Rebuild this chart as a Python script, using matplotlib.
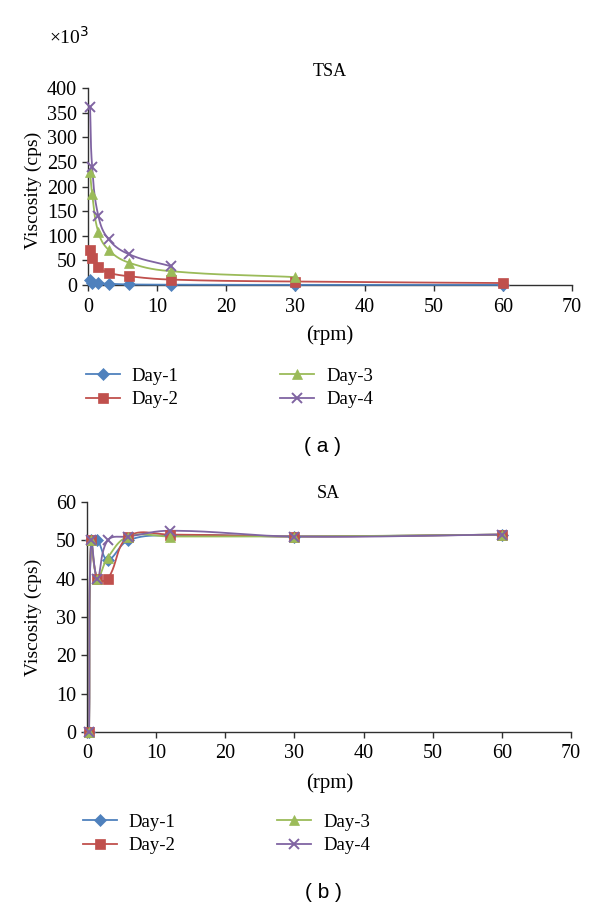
import numpy as np
import matplotlib
matplotlib.use("Agg")
import matplotlib.pyplot as plt
from matplotlib.lines import Line2D

plt.rcParams['font.family'] = ['Liberation Serif', 'DejaVu Serif']

rpm = [0.3, 0.6, 1.5, 3, 6, 12, 30, 60]
labels = ["Day-1", "Day-2", "Day-3", "Day-4"]
colors = ["#4F81BD", "#C0504D", "#9BBB59", "#8064A2"]
markers = ["D", "s", "^", "x"]
msizes = [6, 6.8, 7.5, 7.5]

# Panel (a): TSA viscosity (x10^3 cps)
tsa_day1 = [10, 5, 3.5, 2.4, 1.2, 0.6, 0.3, 0.2]
tsa_day2 = [71, 55, 36.5, 25, 17.7, 11, 7, 4]
tsa_day3 = [230, 185, 107, 71, 45, 28, 16]
tsa_day4 = [361, 240, 140, 92.5, 62, 38]

# Panel (b): SA viscosity (cps)
sa_day1 = [0, 50, 50, 45, 50, 51.3, 51, 51.5]
sa_day2 = [0, 50, 40, 40, 51, 51.5, 51, 51.5]
sa_day3 = [0, 50, 40, 45.5, 51, 51, 51, 51.5]
sa_day4 = [0, 50, 40, 50, 51, 52.5, 51, 51.5]

xticks = [0, 10, 20, 30, 40, 50, 60, 70]


def smooth(x, y, sx, sy, n=40):
    """Bezier smoothing (Excel-like) computed in pixel-scaled space."""
    x = np.asarray(x, float) * sx
    y = np.asarray(y, float) * sy
    P = np.column_stack([x, y])
    if len(P) < 3:
        return P[:, 0] / sx, P[:, 1] / sy
    out = [P[0]]
    for i in range(len(P) - 1):
        p0 = P[i - 1] if i > 0 else P[i]
        p1 = P[i]
        p2 = P[i + 1]
        p3 = P[i + 2] if i + 2 < len(P) else P[i + 1]
        d0 = np.linalg.norm(p1 - p0)
        d1 = np.linalg.norm(p2 - p1)
        d2 = np.linalg.norm(p3 - p2)
        f1 = d1 / (d0 + d1) if d0 + d1 > 0 else 0
        f2 = d1 / (d1 + d2) if d1 + d2 > 0 else 0
        c1 = p1 + (p2 - p0) * f1 / 2.5
        c2 = p2 - (p3 - p1) * f2 / 2.5
        t = np.linspace(0, 1, n)[1:, None]
        seg = ((1 - t) ** 3) * p1 + 3 * ((1 - t) ** 2) * t * c1 + 3 * (1 - t) * t ** 2 * c2 + t ** 3 * p2
        out.extend(seg)
    out = np.array(out)
    return out[:, 0] / sx, out[:, 1] / sy


W, H = 600, 910
fig = plt.figure(figsize=(W / 100, H / 100), dpi=100)


def px_axes(left, top, right, bottom):
    return fig.add_axes([left / W, 1 - bottom / H, (right - left) / W, (bottom - top) / H])


def style(ax, ymax, ystep):
    ax.set_xlim(0, 70)
    ax.set_ylim(0, ymax)
    ax.set_xticks(xticks)
    ax.set_yticks(np.arange(0, ymax + 0.1, ystep))
    for s in ["top", "right"]:
        ax.spines[s].set_visible(False)
    for s in ["left", "bottom"]:
        ax.spines[s].set_color("#303030")
        ax.spines[s].set_linewidth(1.0)
    ax.tick_params(axis="both", direction="out", length=4, width=1.0, color="#303030",
                   labelsize=14.5, pad=4)
    ax.tick_params(axis="x", pad=5)


def draw(ax, series, ymax, pxw, pxh):
    for data, c, m, ms in zip(series, colors, markers, msizes):
        xs = rpm[:len(data)]
        sx_, sy_ = smooth(xs, data, pxw / 70.0, pxh / ymax)
        ax.plot(sx_, sy_, color=c, lw=1.3, zorder=3, clip_on=False)
        ax.plot(xs, data, linestyle="none", marker=m, color=c, markersize=ms,
                markeredgewidth=1.4 if m == "x" else 0.5, zorder=4, clip_on=False)


def legend(y_center, x_left):
    handles = [Line2D([], [], color=c, marker=m, markersize=ms, lw=1.3,
                      markeredgewidth=1.4 if m == "x" else 0.5)
               for c, m, ms in zip(colors, markers, msizes)]
    fig.legend(handles, labels, ncol=2, loc="center left", frameon=False,
               bbox_to_anchor=(x_left / W, 1 - y_center / H), fontsize=13.5,
               handlelength=1.8, handletextpad=0.65, columnspacing=5.4,
               labelspacing=0.35, borderpad=0, borderaxespad=0)


# Panel (a)
ax1 = px_axes(88, 88, 572, 285)
style(ax1, 400, 50)
draw(ax1, [tsa_day1, tsa_day2, tsa_day3, tsa_day4], 400, 484, 197)
fig.text(33 / W, 1 - 190 / H, "Viscosity (cps)", rotation=90, ha="center", va="center", fontsize=14)
fig.text(49 / W, 1 - 37 / H, "\u00d710$^{3}$", ha="left", va="center", fontsize=14)
fig.text(330 / W, 1 - 71 / H, "TSA", ha="center", va="center", fontsize=13)
fig.text(330 / W, 1 - 335 / H, "(rpm)", ha="center", va="center", fontsize=15)
legend(388, 86)
fig.text(323 / W, 1 - 446 / H, "( a )", ha="center", va="center", fontsize=15,
         family=["Liberation Sans", "DejaVu Sans"])

# Panel (b)
ax2 = px_axes(87, 502, 571, 732)
style(ax2, 60, 10)
draw(ax2, [sa_day1, sa_day2, sa_day3, sa_day4], 60, 484, 230)
fig.text(33 / W, 1 - 617 / H, "Viscosity (cps)", rotation=90, ha="center", va="center", fontsize=14)
fig.text(328 / W, 1 - 494 / H, "SA", ha="center", va="center", fontsize=13)
fig.text(330 / W, 1 - 783 / H, "(rpm)", ha="center", va="center", fontsize=15)
legend(834, 83)
fig.text(323 / W, 1 - 893 / H, "( b )", ha="center", va="center", fontsize=15,
         family=["Liberation Sans", "DejaVu Sans"])

fig.savefig("out.png", dpi=100, facecolor="white")
